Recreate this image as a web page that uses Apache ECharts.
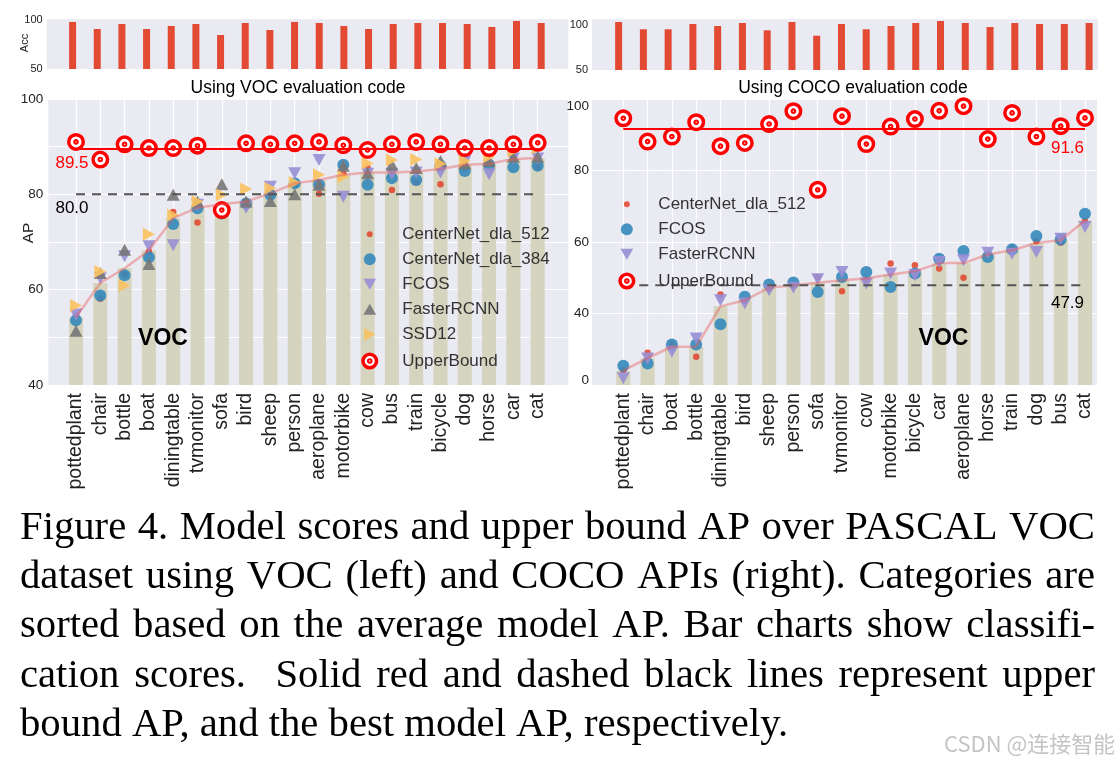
<!DOCTYPE html>
<html>
<head>
<meta charset="utf-8">
<title>Model scores and upper bound AP</title>
<script src="https://cdn.jsdelivr.net/npm/echarts@6/dist/echarts.min.js"></script>
<style>
  html, body { margin: 0; padding: 0; background: #fff; }
  #main { width: 1114px; height: 765px; }
</style>
</head>
<body>
<div id="main"></div>
<script>
// left panel: VOC evaluation code
const vocCategories = ['pottedplant', 'chair', 'bottle', 'boat', 'diningtable', 'tvmonitor', 'sofa', 'bird', 'sheep', 'person',
    'aeroplane', 'motorbike', 'cow', 'bus', 'train', 'bicycle', 'dog', 'horse', 'car', 'cat'];
const vocAcc = [98.0, 90.8, 95.9, 90.8, 93.9, 95.9, 84.7, 96.9, 89.8, 98.0, 96.9, 93.9, 90.8, 95.9, 96.9, 96.9, 95.9, 92.9, 99.0, 96.9];
const vocAvg = [54.2, 61.4, 64.5, 68.2, 75.0, 77.2, 77.9, 78.5, 80.2, 82.3, 83.0, 84.1, 84.6, 84.6, 84.8, 85.3, 86.2, 86.4, 87.4, 87.6];
const vocCN512 = [54.6, 58.1, 63.2, 68.0, 76.3, 74.1, 75.5, 78.5, 80.0, 82.1, 80.1, 84.4, 85.6, 80.9, 82.5, 82.1, 85.5, 86.8, 87.2, 85.8];
const vocCN384 = [53.6, 58.8, 63.0, 66.8, 73.8, 77.1, 76.0, 78.1, 79.9, 82.3, 82.0, 86.2, 82.0, 83.4, 83.0, 86.0, 84.9, 86.2, 85.7, 86.0];
const vocFCOS = [54.8, 62.4, 67.0, 69.1, 69.3, 77.8, 76.0, 77.2, 81.6, 84.4, 87.2, 79.5, 84.3, 84.3, 84.6, 84.6, 86.9, 84.2, 87.5, 87.5];
const vocFaster = [51.4, 63.5, 68.4, 65.4, 79.9, 78.5, 82.1, 78.5, 78.6, 80.0, 82.0, 86.0, 84.4, 86.2, 85.5, 87.0, 86.5, 87.0, 87.9, 87.9];
const vocSSD = [56.7, 63.8, 60.9, 71.6, 75.6, 78.5, 79.9, 81.1, 81.3, 82.5, 84.1, 83.7, 86.5, 87.2, 87.3, 86.4, 87.0, 87.9, 89.1, 89.7];
const vocUpper = [91.0, 87.3, 90.5, 89.7, 89.7, 90.2, 76.7, 90.7, 90.5, 90.7, 91.0, 90.3, 89.3, 90.5, 91.0, 90.5, 89.7, 89.7, 90.5, 90.8];
const vocUpperMean = 89.5;
const vocBest = 80.0;

// right panel: COCO evaluation code
const cocoCategories = ['pottedplant', 'chair', 'boat', 'bottle', 'diningtable', 'bird', 'sheep', 'person', 'sofa', 'tvmonitor',
    'cow', 'motorbike', 'bicycle', 'car', 'aeroplane', 'horse', 'train', 'dog', 'bus', 'cat'];
const cocoAcc = [98.0, 90.7, 90.7, 96.0, 94.0, 97.0, 89.7, 98.0, 84.3, 96.0, 90.7, 94.0, 97.0, 99.0, 97.0, 93.0, 97.0, 96.0, 96.0, 97.0];
const cocoAvg = [24.0, 27.5, 30.7, 30.7, 42.0, 43.7, 47.2, 47.9, 48.6, 49.3, 49.8, 50.9, 51.8, 54.1, 54.1, 56.5, 57.7, 59.7, 60.5, 66.0];
const cocoCN512 = [24.2, 29.0, 31.5, 27.9, 45.3, 43.6, 47.0, 47.8, 50.2, 46.2, 49.5, 54.0, 53.5, 52.6, 50.0, 56.7, 58.3, 60.2, 59.8, 65.8];
const cocoFCOS = [25.4, 26.0, 31.3, 31.3, 37.0, 44.7, 48.1, 48.7, 46.0, 50.2, 51.6, 47.4, 51.2, 55.3, 57.5, 55.8, 58.0, 61.7, 60.7, 67.9];
const cocoFaster = [21.9, 27.4, 29.3, 33.0, 43.7, 42.8, 46.5, 47.2, 49.6, 51.6, 48.4, 51.2, 50.7, 54.4, 54.9, 57.0, 56.7, 57.2, 60.9, 64.2];
const cocoUpper = [94.6, 88.1, 89.5, 93.5, 86.8, 87.7, 93.0, 96.6, 74.6, 95.2, 87.4, 92.3, 94.4, 96.7, 98.0, 88.8, 96.1, 89.5, 92.4, 94.7];
const cocoUpperMean = 91.6;
const cocoBest = 47.9;

const captionLines = [
    'Figure 4. Model scores and upper bound AP over PASCAL VOC',
    'dataset using VOC (left) and COCO APIs (right). Categories are',
    'sorted based on the average model AP. Bar charts show classifi-',
    'cation scores.  Solid red and dashed black lines represent upper',
    'bound AP, and the best model AP, respectively.'
];

const SANS = 'Liberation Sans';
const SERIF = 'Liberation Serif';
const BG = '#EAEAF2';
const RED = '#E24A33', BLUE = '#348ABD', PURPLE = '#988ED5', GRAY = '#777777', YELLOW = '#FBC15E';

// marker shapes
const downTri = 'path://M0,0 L10,0 L5,9 Z';
const rightTri = 'path://M0,0 L9,5 L0,10 Z';
const ring = 'path://M2,10 A8,8 0 1 1 18,10 A8,8 0 1 1 2,10 Z M8.8,10 A1.2,1.2 0 1 1 11.2,10 A1.2,1.2 0 1 1 8.8,10 Z';
// legend icons, padded to a 20x20 box so the sizes differ like in the plot
const icDot = 'path://M0,0 M20,20 M6.5,10 A3.5,3.5 0 1 1 13.5,10 A3.5,3.5 0 1 1 6.5,10 Z';
const icCircle = 'path://M0,0 M20,20 M3,10 A7,7 0 1 1 17,10 A7,7 0 1 1 3,10 Z';
const icDown = 'path://M0,0 M20,20 M2.5,3.5 L17.5,3.5 L10,16.5 Z';
const icUp = 'path://M0,0 M20,20 M2.5,16.5 L17.5,16.5 L10,3.5 Z';
const icRight = 'path://M0,0 M20,20 M3.5,2.5 L16.5,10 L3.5,17.5 Z';
const icRing = 'path://M0,0 M20,20 ' + ring.slice(7);
const ringStyle = { color: '#fff', borderColor: '#FF0000', borderWidth: 3.5, opacity: 1 };

function dots(name, data, axis, symbol, size, color, extra) {
    return Object.assign({
        name: name, type: 'scatter', xAxisIndex: axis, yAxisIndex: axis, data: data,
        symbol: symbol, symbolSize: size, clip: false,
        itemStyle: { color: color, opacity: 0.9 }
    }, extra || {});
}

function hline(value, axis, count, color, type) {
    return {
        type: 'line', xAxisIndex: axis, yAxisIndex: axis, clip: false, symbol: 'none', silent: true,
        data: [[0, value], [count - 1, value]],
        lineStyle: { color: color, width: 2, type: type }
    };
}

// bars sit on the background grid (value x axis) so they clip at the bottom only
function panelSeries(bgAxis, axis, avg, upperMean, best, count) {
    return [
        { type: 'bar', xAxisIndex: bgAxis, yAxisIndex: bgAxis, data: avg.map((v, i) => [i, v]), barWidth: 14,
          itemStyle: { color: '#D5D4BE' } },
        { type: 'line', xAxisIndex: axis, yAxisIndex: axis, data: avg, clip: false, symbol: 'none',
          lineStyle: { color: 'rgba(228,90,90,0.42)', width: 2.5 } },
        hline(upperMean, axis, count, '#FF0000', 'solid'),
        hline(best, axis, count, '#555', [9, 7])
    ];
}

// caption, justified word by word like the paper
function captionText() {
    const size = 40.7;
    const ctx = document.createElement('canvas').getContext('2d');
    ctx.font = size + 'px "' + SERIF + '"';
    const left = 20, right = 1095, out = [];
    captionLines.forEach((line, li) => {
        const y = 528 + li * 49.4;
        const spaces = (line.match(/ /g) || []).length;
        const extra = li < captionLines.length - 1 ? (right - left - ctx.measureText(line).width) / spaces : 0;
        const re = /\S+/g;
        let m;
        while ((m = re.exec(line))) {
            const before = line.slice(0, m.index);
            const n = (before.match(/ /g) || []).length;
            out.push({ type: 'text', x: left + ctx.measureText(before).width + extra * n, y: y,
                style: { text: m[0], fontSize: size, fontFamily: SERIF, fill: '#000', textVerticalAlign: 'middle' } });
        }
    });
    return out;
}

function label(text, x, y, size, color, extra) {
    return Object.assign({ type: 'text', x: x, y: y, z: 100,
        style: { text: text, fontSize: size, fontFamily: SANS, fill: color, textAlign: 'center', textVerticalAlign: 'middle' } }, extra || {});
}

const hiddenX = (g, min, max) => ({ type: 'value', gridIndex: g, min: min, max: max, show: false });
const catX = (g, cats) => ({
    type: 'category', gridIndex: g, data: cats, boundaryGap: false,
    axisLine: { show: false }, axisTick: { show: false },
    axisLabel: { interval: 0, rotate: 90, margin: 8, fontSize: 19.5, fontFamily: SANS, color: '#222' },
    splitLine: { show: true, interval: 0, lineStyle: { color: '#fff', width: 1.2 } }
});

const chart = echarts.init(document.getElementById('main'));

chart.setOption({
    animation: false,
    backgroundColor: '#fff',
    title: [
        { text: 'Using VOC evaluation code', left: 293, top: 74, textAlign: 'center',
          textStyle: { fontSize: 17.5, fontWeight: 'normal', fontFamily: SANS, color: '#000' } },
        { text: 'Using COCO evaluation code', left: 848, top: 74, textAlign: 'center',
          textStyle: { fontSize: 17.5, fontWeight: 'normal', fontFamily: SANS, color: '#000' } }
    ],
    grid: [
        { left: 46.7, top: 19.3, width: 521.6, height: 49.7, show: true, backgroundColor: BG, borderWidth: 0 },
        { left: 592, top: 19.3, width: 506, height: 50.7, show: true, backgroundColor: BG, borderWidth: 0 },
        { left: 48.3, top: 99, width: 520, height: 286, show: true, backgroundColor: BG, borderWidth: 0 },
        { left: 76, top: 99, width: 461.7, height: 286 },
        { left: 592, top: 99, width: 505, height: 286, show: true, backgroundColor: BG, borderWidth: 0 },
        { left: 623.3, top: 99, width: 461.7, height: 286 }
    ],
    xAxis: [
        hiddenX(0, -1.05, 20.1),
        hiddenX(1, -1.075, 19.36),
        hiddenX(2, -1.14, 20.26),
        catX(3, vocCategories),
        hiddenX(4, -1.288, 19.49),
        catX(5, cocoCategories)
    ],
    yAxis: [
        { type: 'value', gridIndex: 0, min: 50, max: 100.7, interval: 50,
          axisLine: { show: false }, axisTick: { show: false }, splitLine: { show: false },
          axisLabel: { margin: 4, fontSize: 11, fontFamily: SANS, color: '#222',
              formatter: v => (v === 50 || v === 100) ? String(v) : '' } },
        { type: 'value', gridIndex: 1, min: 50, max: 100.7, interval: 50,
          axisLine: { show: false }, axisTick: { show: false }, splitLine: { show: false },
          axisLabel: { margin: 4, fontSize: 11, fontFamily: SANS, color: '#222',
              formatter: v => v === 100 ? '{p|100}' : (v === 50 ? '50' : ''),
              rich: { p: { padding: [10, 0, 0, 0], fontSize: 11, fontFamily: SANS, color: '#222' } } } },
        { type: 'value', gridIndex: 2, min: 40, max: 100, interval: 10,
          axisLine: { show: false }, axisTick: { show: false },
          splitLine: { lineStyle: { color: '#fff', width: 1.2 } },
          axisLabel: { margin: 5, fontSize: 13.5, fontFamily: SANS, color: '#222',
              formatter: v => v % 20 === 0 ? String(v) : '' } },
        { type: 'value', gridIndex: 3, min: 40, max: 100, show: false },
        { type: 'value', gridIndex: 4, min: 20, max: 100, interval: 20,
          axisLine: { show: false }, axisTick: { show: false },
          splitLine: { lineStyle: { color: '#fff', width: 1.2 } },
          axisLabel: { margin: 3, fontSize: 13.5, fontFamily: SANS, color: '#222',
              formatter: v => v === 100 ? '{t|100}' : (v === 20 ? '{b|0}' : String(v)),
              rich: {
                  t: { padding: [15, 0, 0, 0], fontSize: 13.5, fontFamily: SANS, color: '#222' },
                  b: { padding: [0, 0, 10, 0], fontSize: 13.5, fontFamily: SANS, color: '#222' }
              } } },
        { type: 'value', gridIndex: 5, min: 20, max: 100, show: false }
    ],
    legend: [
        { orient: 'vertical', left: 354.5, top: 220.8, itemWidth: 55, itemHeight: 17, itemGap: 8.0,
          selectedMode: false, textStyle: { fontSize: 17, fontFamily: SANS, color: '#333' },
          data: [
              { name: 'CenterNet_dla_512', icon: icDot, itemStyle: { color: RED } },
              { name: 'CenterNet_dla_384', icon: icCircle, itemStyle: { color: BLUE } },
              { name: 'FCOS', icon: icDown, itemStyle: { color: PURPLE } },
              { name: 'FasterRCNN', icon: icUp, itemStyle: { color: GRAY } },
              { name: 'SSD12', icon: icRight, itemStyle: { color: YELLOW } },
              { name: 'UpperBound', icon: icRing, itemStyle: ringStyle }
          ] },
        { orient: 'vertical', left: 611.6, top: 190.8, itemWidth: 53, itemHeight: 17, itemGap: 8.0,
          selectedMode: false, textStyle: { fontSize: 17, fontFamily: SANS, color: '#333' },
          data: [
              { name: 'CenterNet_dla_512', icon: icDot, itemStyle: { color: RED } },
              { name: 'FCOS', icon: icCircle, itemStyle: { color: BLUE } },
              { name: 'FasterRCNN', icon: icDown, itemStyle: { color: PURPLE } },
              { name: 'UpperBound', icon: icRing, itemStyle: ringStyle }
          ] }
    ],
    series: [
        { type: 'bar', xAxisIndex: 0, yAxisIndex: 0, barWidth: 7, itemStyle: { color: RED },
          data: vocAcc.map((v, i) => [i, v]) },
        { type: 'bar', xAxisIndex: 1, yAxisIndex: 1, barWidth: 7, itemStyle: { color: RED },
          data: cocoAcc.map((v, i) => [i, v]) },

        ...panelSeries(2, 3, vocAvg, vocUpperMean, vocBest, vocCategories.length),
        dots('CenterNet_dla_512', vocCN512, 3, 'circle', 6.5, RED),
        dots('CenterNet_dla_384', vocCN384, 3, 'circle', 12, BLUE),
        dots('FCOS', vocFCOS, 3, downTri, [13, 12], PURPLE),
        dots('FasterRCNN', vocFaster, 3, 'triangle', [13, 12], GRAY),
        dots('SSD12', vocSSD, 3, rightTri, [12, 13], YELLOW),
        dots('UpperBound', vocUpper, 3, ring, 14.5, '#fff', { itemStyle: ringStyle }),

        ...panelSeries(4, 5, cocoAvg, cocoUpperMean, cocoBest, cocoCategories.length),
        dots('CenterNet_dla_512', cocoCN512, 5, 'circle', 6.5, RED),
        dots('FCOS', cocoFCOS, 5, 'circle', 12, BLUE),
        dots('FasterRCNN', cocoFaster, 5, downTri, [13, 12], PURPLE),
        dots('UpperBound', cocoUpper, 5, ring, 14.5, '#fff', { itemStyle: ringStyle })
    ],
    graphic: [
        label('Acc', 25, 43, 11, '#222', { rotation: Math.PI / 2 }),
        label('AP', 29, 233, 15.5, '#222', { rotation: Math.PI / 2 }),
        label(vocUpperMean.toFixed(1), 72, 163.3, 17, '#FF0000'),
        label(vocBest.toFixed(1), 72, 208, 17, '#000'),
        label(cocoUpperMean.toFixed(1), 1067.5, 148.3, 17, '#FF0000'),
        label(cocoBest.toFixed(1), 1067.5, 303.3, 17, '#000'),
        { type: 'text', x: 163, y: 339, z: 100, style: { text: 'VOC', fontSize: 23, fontWeight: 'bold', fontFamily: SANS,
            fill: '#000', textAlign: 'center', textVerticalAlign: 'middle' } },
        { type: 'text', x: 943.5, y: 339, z: 100, style: { text: 'VOC', fontSize: 23, fontWeight: 'bold', fontFamily: SANS,
            fill: '#000', textAlign: 'center', textVerticalAlign: 'middle' } },
        ...captionText(),
        { type: 'text', x: 944, y: 744, style: { text: 'CSDN @连接智能', fontSize: 22, fontFamily: 'Noto Sans CJK SC',
            fill: '#C4C4C4', textVerticalAlign: 'middle' } }
    ]
});
</script>
</body>
</html>
